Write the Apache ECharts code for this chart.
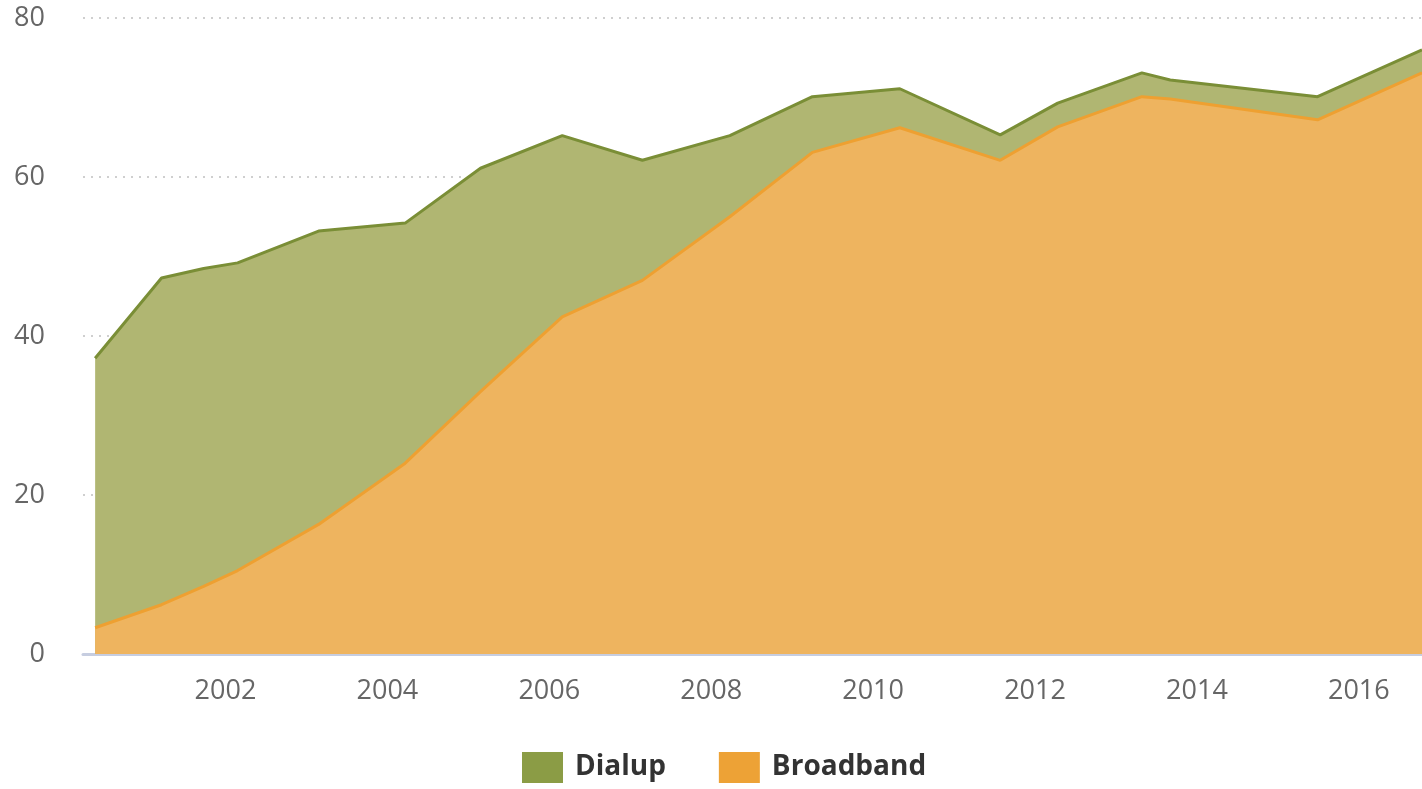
<!DOCTYPE html>
<html>
<head>
<meta charset="utf-8">
<style>
  html, body { margin: 0; padding: 0; background: #ffffff; }
  #chart { width: 1422px; height: 789px; }
</style>
<script src="https://cdn.jsdelivr.net/npm/echarts@6/dist/echarts.min.js"></script>
</head>
<body>
<div id="chart"></div>
<script>
// Survey dates as decimal years
const surveyDates = [2000.39, 2001.21, 2001.73, 2002.15, 2003.15, 2004.22, 2005.15, 2006.16,
  2007.15, 2008.23, 2009.25, 2010.33, 2011.57, 2012.28, 2013.32, 2013.67, 2015.49, 2016.78];
// Share of adults with home broadband (%)
const broadband = [3.3, 6.2, 8.5, 10.5, 16.3, 24.0, 33.0, 42.4,
  47.0, 55.0, 63.1, 66.2, 62.1, 66.3, 70.1, 69.8, 67.2, 73.1];
// Share of adults with home dial-up (%), shown stacked on broadband
const dialup = [33.9, 41.1, 40.0, 38.7, 36.9, 30.2, 28.1, 22.8,
  15.1, 10.2, 7.0, 4.9, 3.2, 3.0, 3.0, 2.4, 2.9, 2.9];
// Labelled years on the horizontal axis
const yearTicks = [2002, 2004, 2006, 2008, 2010, 2012, 2014, 2016];

// Top of the dial-up band = broadband + dial-up
const homeTotal = broadband.map((b, i) => +(b + dialup[i]).toFixed(1));
const pairs = (vals) => surveyDates.map((d, i) => [d, vals[i]]);

const chart = echarts.init(document.getElementById('chart'), null, { renderer: 'canvas' });

const labelFont = { fontFamily: 'Open Sans', fontSize: 27, color: '#666666' };

chart.setOption({
  animation: false,
  backgroundColor: '#ffffff',
  grid: { left: 83, right: 0, top: 18, bottom: 135, containLabel: false },
  legend: {
    left: 522,
    top: 752,
    padding: 0,
    itemWidth: 41,
    itemHeight: 31,
    itemGap: 53,
    icon: 'rect',
    data: [
      { name: 'Dialup', itemStyle: { color: '#8b9c45' } },
      { name: 'Broadband', itemStyle: { color: '#eda236' } }
    ],
    textStyle: {
      fontFamily: 'Open Sans', fontSize: 28, fontWeight: 'bold', color: '#333333',
      padding: [0, 0, 0, 7]
    },
    selectedMode: false
  },
  xAxis: {
    type: 'value',
    min: 2000.24,
    max: 2016.78,
    splitLine: { show: false },
    axisTick: { show: false },
    axisLine: { show: true, lineStyle: { color: '#c6cde0', width: 3 } },
    axisLabel: Object.assign({ customValues: yearTicks, margin: 24, formatter: (v) => String(v) }, labelFont)
  },
  yAxis: {
    type: 'value',
    min: 0,
    max: 80,
    interval: 20,
    axisLine: { show: false },
    axisTick: { show: false },
    axisLabel: Object.assign({ margin: 38 }, labelFont),
    splitLine: { show: true, lineStyle: { color: '#cfcfcf', type: [2, 6], width: 2 } }
  },
  series: [
    {
      name: 'Dialup',
      type: 'line',
      data: pairs(homeTotal),
      symbol: 'none',
      lineStyle: { color: '#7a8e36', width: 3 },
      itemStyle: { color: '#8b9c45' },
      areaStyle: { color: '#b0b672', opacity: 1 },
      z: 2
    },
    {
      name: 'Broadband',
      type: 'line',
      data: pairs(broadband),
      symbol: 'none',
      lineStyle: { color: '#eea031', width: 3 },
      itemStyle: { color: '#eda236' },
      areaStyle: { color: '#eeb45f', opacity: 1 },
      z: 3
    }
  ]
});
</script>
</body>
</html>
